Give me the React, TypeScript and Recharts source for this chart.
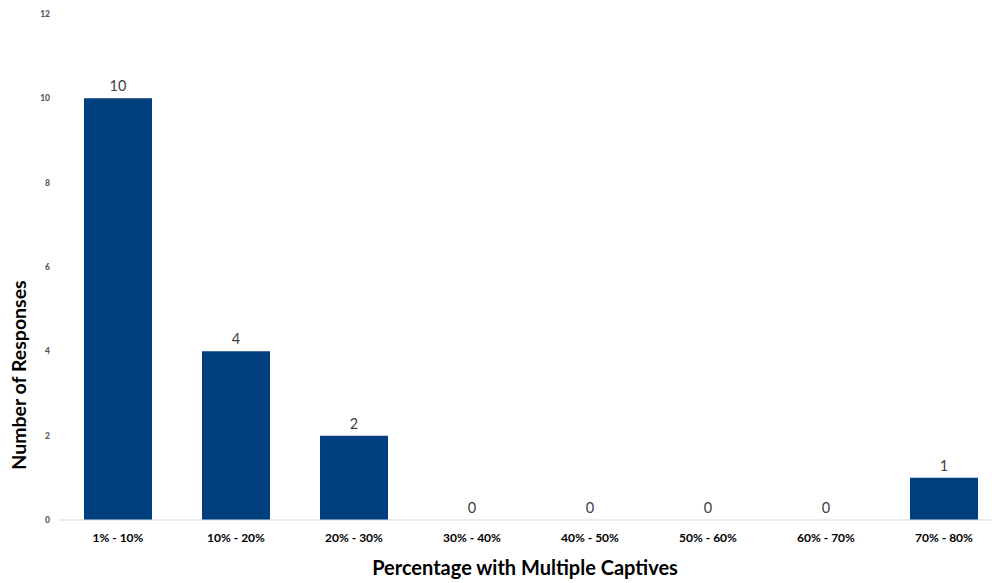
import React from "react";
import { ComposedChart, Bar, Line, XAxis, YAxis, LabelList, Label } from "recharts";

const categories = ["1% - 10%", "10% - 20%", "20% - 30%", "30% - 40%", "40% - 50%", "50% - 60%", "60% - 70%", "70% - 80%"];
const responses = [10, 4, 2, 0, 0, 0, 0, 1];
const yTicks = [0, 2, 4, 6, 8, 10, 12];

const data = categories.map((c, i) => ({ range: c, count: responses[i] }));

const FONT = "Lato, 'Open Sans', sans-serif";
const BAR_COLOR = "#003F7D";

const YTitle = (props: any) => {
  const vb = props.viewBox || {};
  const cx = (vb.x ?? 0) + 18;
  const cy = (vb.y ?? 0) + (vb.height ?? 0) / 2 + 108;
  return (
    <text
      x={cx}
      y={cy}
      transform={`rotate(-90, ${cx}, ${cy})`}
      textAnchor="middle"
      dominantBaseline="central"
      fontFamily={FONT}
      fontWeight={700}
      fontSize={19.5}
      fill="#000"
    >
      Number of Responses
    </text>
  );
};

export default function App() {
  return (
    <div style={{ position: "fixed", left: 0, top: 0, width: 992, height: 583, overflow: "hidden", background: "#fff" }}>
      <ComposedChart
        width={1010}
        height={583}
        data={data}
        margin={{ top: 14, right: 7, bottom: 0, left: 0 }}
        barSize={68}
      >
        <XAxis
          dataKey="range"
          height={63}
          axisLine={{ stroke: "#D9D9D9", strokeWidth: 1 }}
          tickLine={false}
          tickSize={0}
          tickMargin={13}
          interval={0}
          tick={{ fontFamily: FONT, fontSize: 12, fontWeight: 700, fill: "#000" }}
        >
          <Label
            value="Percentage with Multiple Captives"
            position="insideBottom"
            offset={8}
            dx={-6}
            style={{ fontFamily: FONT, fontSize: 20, fontWeight: 700, fill: "#000" }}
          />
        </XAxis>
        <YAxis
          width={59}
          domain={[0, 12]}
          ticks={yTicks}
          axisLine={false}
          tickLine={false}
          tickSize={0}
          tickMargin={9}
          tick={{ fontFamily: FONT, fontSize: 8.5, fontWeight: 900, fill: "#595959" }}
        >
          <Label content={YTitle} />
        </YAxis>
        <Bar dataKey="count" fill={BAR_COLOR} isAnimationActive={false} />
        {/* Invisible line carrying the value labels, so zero counts are labelled too */}
        <Line
          dataKey="count"
          stroke="none"
          dot={false}
          activeDot={false}
          legendType="none"
          isAnimationActive={false}
        >
          <LabelList
            dataKey="count"
            position="top"
            offset={7}
            style={{ fontFamily: FONT, fontSize: 14.5, fill: "#404040" }}
          />
        </Line>
      </ComposedChart>
    </div>
  );
}
